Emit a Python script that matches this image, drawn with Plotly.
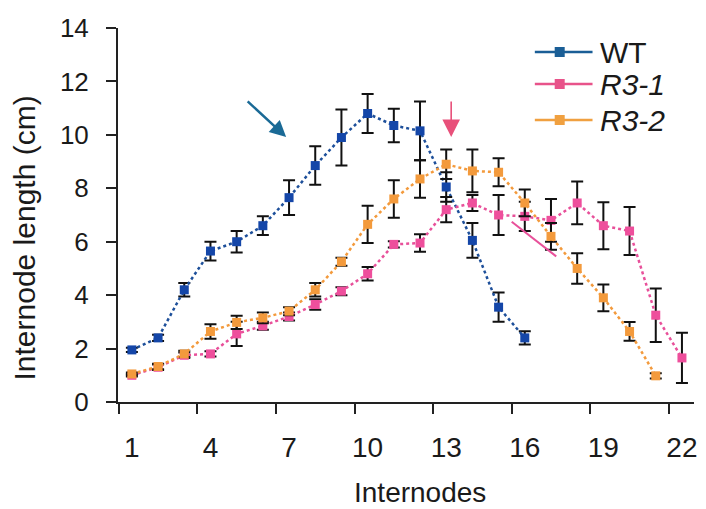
import plotly.graph_objects as go

# ---- data ----
internodes_wt = list(range(1, 17))
wt_len = [1.95, 2.4, 4.2, 5.65, 6.0, 6.6, 7.65, 8.85, 9.9, 10.8, 10.35, 10.15, 8.05, 6.05, 3.55, 2.4]
wt_err = [0.08, 0.12, 0.25, 0.35, 0.4, 0.35, 0.65, 0.72, 1.05, 0.73, 0.63, 1.1, 0.55, 0.65, 0.55, 0.25]

internodes_r31 = list(range(1, 23))
r31_len = [1.0, 1.3, 1.75, 1.8, 2.55, 2.85, 3.2, 3.65, 4.15, 4.8, 5.9, 5.95, 7.2, 7.45, 7.0, 6.95,
           6.8, 7.45, 6.6, 6.4, 3.25, 1.65]
r31_err = [0.05, 0.1, 0.1, 0.1, 0.45, 0.15, 0.15, 0.2, 0.15, 0.25, 0.12, 0.33, 0.47, 0.3, 0.75, 0.55,
           0.8, 0.8, 0.88, 0.9, 1.0, 0.94]

internodes_r32 = list(range(1, 22))
r32_len = [1.05, 1.33, 1.8, 2.64, 2.98, 3.15, 3.4, 4.2, 5.25, 6.65, 7.6, 8.35, 8.9, 8.65, 8.6, 7.45,
           6.2, 5.0, 3.9, 2.64, 0.98]
r32_err = [0.05, 0.1, 0.12, 0.27, 0.25, 0.2, 0.15, 0.25, 0.15, 0.7, 0.7, 0.7, 0.55, 0.8, 0.52, 0.5,
           0.5, 0.57, 0.5, 0.35, 0.1]

# stray pink segment visible in the reference
stray_x = [15.5, 17.2]
stray_y = [6.75, 5.45]

x_tick_vals = [1, 4, 7, 10, 13, 16, 19, 22]
y_tick_vals = [0, 2, 4, 6, 8, 10, 12, 14]

series_names = ["WT", "<i>R3-1</i>", "<i>R3-2</i>"]
line_colors = ["#1d4f9a", "#e8509a", "#f39a3c"]
marker_colors = ["#1446a8", "#ee4f9c", "#f39a3c"]
legend_line_colors = ["#1a5e96", "#e8538a", "#f0a040"]

FONT = "Liberation Sans, Arial, sans-serif"
TXT = "#1a1a1a"

fig = go.Figure()

for xs, ys, es, lc, mc in [
    (internodes_wt, wt_len, wt_err, line_colors[0], marker_colors[0]),
    (internodes_r31, r31_len, r31_err, line_colors[1], marker_colors[1]),
    (internodes_r32, r32_len, r32_err, line_colors[2], marker_colors[2]),
]:
    fig.add_trace(go.Scatter(
        x=xs, y=ys, mode="lines+markers",
        line=dict(color=lc, width=2.5, dash="dot"),
        marker=dict(symbol="square", size=9, color=mc),
        error_y=dict(type="data", array=es, visible=True, color="#111111", thickness=2, width=6),
        showlegend=False,
    ))

fig.add_trace(go.Scatter(x=stray_x, y=stray_y, mode="lines",
                         line=dict(color=line_colors[1], width=2), showlegend=False,
                         hoverinfo="skip"))

# ---- layout geometry (pixels) ----
W, H = 706, 509
L, R, T, B = 118, 9, 28, 107
PW = W - L - R
PH = H - T - B

def px(xp):
    return (xp - L) / PW

def py(yp):
    return (H - B - yp) / PH

fig.update_layout(
    width=W, height=H, autosize=False,
    margin=dict(l=L, r=R, t=T, b=B, pad=0),
    paper_bgcolor="white", plot_bgcolor="white",
    font=dict(family=FONT, color=TXT),
    showlegend=False,
    xaxis=dict(
        range=[0.47, 22.46], tickvals=x_tick_vals, ticks="",
        showline=True, linewidth=2, linecolor="#222222",
        showgrid=False, zeroline=False,
        tickfont=dict(size=28, family=FONT, color=TXT),
        ticklabelstandoff=19,
        minor=dict(ticks="outside", tick0=0.5, dtick=3, ticklen=10, tickwidth=2,
                   tickcolor="#222222", showgrid=False),
    ),
    yaxis=dict(
        range=[0, 14], tickvals=y_tick_vals, ticks="outside", ticklen=10, tickwidth=2,
        tickcolor="#222222", showline=True, linewidth=2, linecolor="#222222",
        showgrid=False, zeroline=False,
        tickfont=dict(size=26, family=FONT, color=TXT),
        ticklabelstandoff=12,
    ),
)

# axis titles
fig.add_annotation(text="Internodes", xref="paper", yref="paper",
                   x=px(422), y=py(492), xanchor="center", yanchor="middle",
                   showarrow=False, font=dict(size=28, family=FONT, color=TXT))
fig.add_annotation(text="Internode length (cm)", xref="paper", yref="paper",
                   x=px(24), y=py(238), xanchor="center", yanchor="middle", textangle=-90,
                   showarrow=False, font=dict(size=30, family=FONT, color=TXT))

# arrows
fig.add_annotation(x=6.89, y=9.92, xref="x", yref="y", ax=-40, ay=-37, text="",
                   showarrow=True, arrowhead=2, arrowsize=1.3, arrowwidth=2.5,
                   arrowcolor="#1a6a96", standoff=0)
fig.add_annotation(x=13.19, y=9.92, xref="x", yref="y", ax=0, ay=-37, text="",
                   showarrow=True, arrowhead=2, arrowsize=2.2, arrowwidth=1.6,
                   arrowcolor="#e8507a", standoff=0)

# legend (drawn as shapes + text)
legend_rows = [52, 84, 120]
for name, col, yrow in zip(series_names, legend_line_colors, legend_rows):
    fig.add_shape(type="line", xref="paper", yref="paper",
                  x0=px(537), x1=px(595), y0=py(yrow), y1=py(yrow),
                  line=dict(color=col, width=2.5))
    fig.add_shape(type="rect", xref="paper", yref="paper",
                  xsizemode="pixel", ysizemode="pixel",
                  xanchor=px(562), yanchor=py(yrow), x0=-5, x1=5, y0=-5, y1=5,
                  fillcolor=col, line=dict(width=0))
    fig.add_annotation(text=name, xref="paper", yref="paper",
                       x=px(601), y=py(yrow), xanchor="left", yanchor="middle",
                       showarrow=False, font=dict(size=30, family=FONT, color=TXT))

fig.write_html(
    "out.html",
    config={"displayModeBar": False},
    post_script="document.body.style.margin='0';document.body.style.padding='0';"
                "document.body.style.overflow='hidden';",
)
